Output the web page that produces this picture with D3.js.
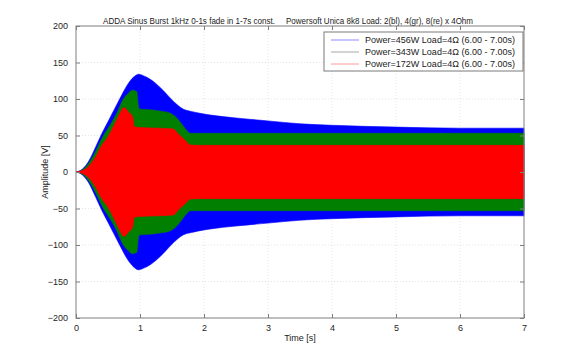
<!DOCTYPE html>
<html><head><meta charset="utf-8">
<script src="https://cdn.jsdelivr.net/npm/d3@7"></script>
<style>body{margin:0;background:#fff}svg{display:block}svg text{font-family:'Liberation Sans',Arial,sans-serif}</style>
</head><body>
<script>
const titleLeft = "ADDA Sinus Burst 1kHz 0-1s fade in 1-7s const.";
const titleRight = "Powersoft Unica 8k8 Load: 2(bl), 4(gr), 8(re) x 4Ohm";
const xTicks = [0,1,2,3,4,5,6,7];
const yTicks = [-200,-150,-100,-50,0,50,100,150,200];
const seriesNames = ["Power=456W Load=4\u03A9 (6.00 - 7.00s)","Power=343W Load=4\u03A9 (6.00 - 7.00s)","Power=172W Load=4\u03A9 (6.00 - 7.00s)"];
const seriesColors = ["#0000ff","#007f00","#ff0000"];
const legendColors = ["#8c8cff","#a8a8a8","#ff9a9a"];
// envelope (peak amplitude) of each burst
const blueT = [0,0.1,0.2,0.3,0.4,0.5,0.6,0.7,0.8,0.9,0.98,1.05,1.16,1.25,1.37,1.52,1.68,1.8,1.9,2.1,2.5,3.0,3.5,4.0,5.0,6.0,7.0];
const blueA = [0,4,15,33,52,69,86,103,119,130,134,132,127,121,111,97,86,83,81,78,74,70,66,64,61.5,60,60];
const greenT = [0,0.1,0.2,0.3,0.43,0.54,0.64,0.74,0.82,0.875,0.95,0.98,1.0,1.2,1.35,1.46,1.55,1.65,1.72,1.79,2.0,3.0,4.0,5.0,6.0,7.0];
const greenA = [0,3,12,27,50,65,81,100,108,112,110,88,86,85,83,81,76,66,58,53,53,53,53,53,53,53];
const redT = [0,0.1,0.2,0.28,0.4,0.51,0.6,0.69,0.74,0.78,0.82,0.86,0.89,0.91,1.0,1.3,1.52,1.6,1.7,1.79,1.9,2.0,3.0,4.0,5.0,6.0,7.0];
const redA = [0,2,8,17,36,50,65,81,88,87,82,79,74,62,61,60,59,52,44,37,36.5,36.5,36.5,36.5,36.5,36.5,36.5];
const series = [[blueT,blueA],[greenT,greenA],[redT,redA]];

const W=580,H=358,L=76,R=524,T=26,B=318, FS=9;
const svg=d3.select("body").append("svg").attr("width",W).attr("height",H);
const x=d3.scaleLinear().domain([0,7]).range([L,R]);
const y=d3.scaleLinear().domain([-200,200]).range([B,T]);
// grid
svg.append("g").selectAll("line").data(xTicks.slice(1,-1)).join("line")
 .attr("x1",d=>x(d)).attr("x2",d=>x(d)).attr("y1",T).attr("y2",B)
 .attr("stroke","#dcdcdc").attr("stroke-width",0.8).attr("stroke-dasharray","1,2");
svg.append("g").selectAll("line").data(yTicks.slice(1,-1)).join("line")
 .attr("y1",d=>y(d)).attr("y2",d=>y(d)).attr("x1",L).attr("x2",R)
 .attr("stroke","#dcdcdc").attr("stroke-width",0.8).attr("stroke-dasharray","1,2");
// areas
series.forEach((s,i)=>{
  const pts=s[0].map((t,j)=>({t,a:s[1][j]}));
  const area=d3.area().x(d=>x(d.t)).y0(d=>y(-d.a)).y1(d=>y(d.a)).curve(d3.curveMonotoneX);
  svg.append("path").datum(pts).attr("d",area).attr("fill",seriesColors[i]).attr("stroke",seriesColors[i]).attr("stroke-width",0.6);
});
svg.append("line").attr("x1",x(0)).attr("x2",x(0.08)).attr("y1",y(0)).attr("y2",y(0)).attr("stroke","#ff0000").attr("stroke-width",1.2).attr("stroke-dasharray","2,1");
// axes
svg.append("rect").attr("x",L).attr("y",T).attr("width",R-L).attr("height",B-T).attr("fill","none").attr("stroke","#7f7f7f");
const gb=svg.append("g").attr("transform",`translate(0,${B})`).call(d3.axisBottom(x).tickValues(xTicks).tickSizeInner(-4).tickSizeOuter(0).tickPadding(7).tickFormat(d3.format("d")));
const gt=svg.append("g").attr("transform",`translate(0,${T})`).call(d3.axisTop(x).tickValues(xTicks).tickSizeInner(-4).tickSizeOuter(0).tickFormat(""));
const gl=svg.append("g").attr("transform",`translate(${L},0)`).call(d3.axisLeft(y).tickValues(yTicks).tickSizeInner(-4).tickSizeOuter(0).tickPadding(8).tickFormat(d3.format("d")));
const gr=svg.append("g").attr("transform",`translate(${R},0)`).call(d3.axisRight(y).tickValues(yTicks).tickSizeInner(-4).tickSizeOuter(0).tickFormat(""));
[gb,gt,gl,gr].forEach(g=>{g.select(".domain").remove();g.selectAll("line").attr("stroke","#7f7f7f");g.selectAll("text").attr("font-size",FS).attr("fill","#262626").attr("font-family",null);});
// labels
svg.append("text").attr("x",103).attr("y",24).attr("font-size",FS).attr("fill","#222").attr("textLength",172).attr("lengthAdjust","spacingAndGlyphs").text(titleLeft);
svg.append("text").attr("x",286).attr("y",24).attr("font-size",FS).attr("fill","#222").attr("textLength",187).attr("lengthAdjust","spacingAndGlyphs").text(titleRight);
svg.append("text").attr("x",(L+R)/2).attr("y",341).attr("text-anchor","middle").attr("font-size",FS).attr("fill","#222").text("Time [s]");
svg.append("text").attr("transform",`translate(48,${(T+B)/2}) rotate(-90)`).attr("text-anchor","middle").attr("font-size",FS).attr("fill","#222").text("Amplitude [V]");
// legend
const lg=svg.append("g");
lg.append("rect").attr("x",324).attr("y",32).attr("width",199).attr("height",39).attr("fill","#fff").attr("stroke","#7a7a7a");
seriesNames.forEach((n,i)=>{
  const yy=40+i*12;
  lg.append("line").attr("x1",331).attr("x2",359).attr("y1",yy).attr("y2",yy).attr("stroke",legendColors[i]).attr("stroke-width",1);
  lg.append("text").attr("x",365).attr("y",yy+3.2).attr("font-size",FS).attr("fill","#222").attr("textLength",150).attr("lengthAdjust","spacingAndGlyphs").text(n);
});
</script>
</body></html>
